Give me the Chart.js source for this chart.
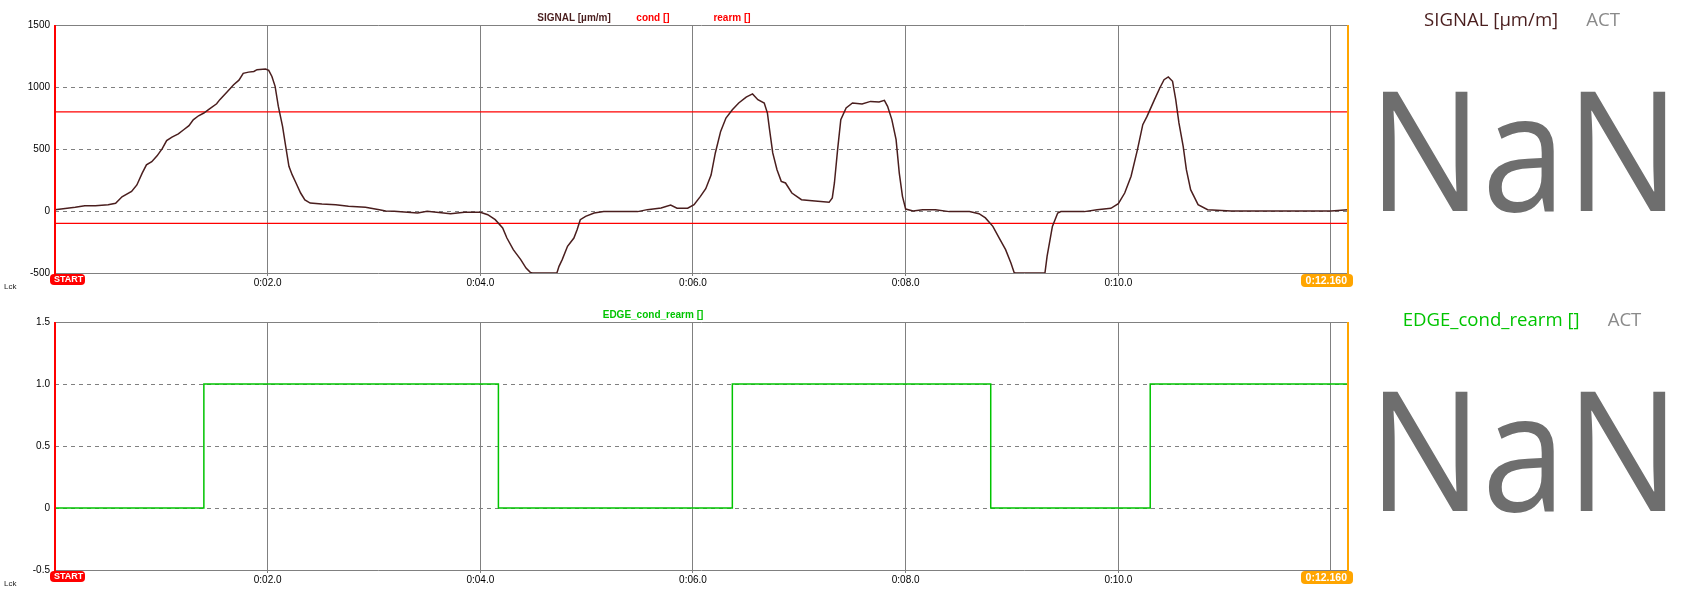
<!DOCTYPE html>
<html>
<head>
<meta charset="utf-8">
<script src="https://cdn.jsdelivr.net/npm/chart.js@4.4.0/dist/chart.umd.min.js"></script>
<style>
  body { margin: 0; background: #fff; width: 1691px; height: 601px; overflow: hidden; }
  canvas { position: absolute; left: 0; }
</style>
</head>
<body>
<canvas id="signalChart" width="1691" height="300" style="top:0"></canvas>
<canvas id="edgeChart" width="1691" height="300" style="top:300px"></canvas>
<script>
// recorded signal, seconds / µm/m (clipped at the -500 floor of the view)
const signalTime = [
  0.00, 0.19, 0.28, 0.38, 0.50, 0.57, 0.63, 0.72, 0.77, 0.82, 0.86, 0.91, 0.96, 1.01, 1.05, 1.10,
  1.16, 1.21, 1.26, 1.30, 1.35, 1.40, 1.45, 1.52, 1.55, 1.62, 1.68, 1.73, 1.77, 1.82, 1.87, 1.90,
  1.98, 2.01, 2.04, 2.07, 2.10, 2.14, 2.17, 2.20, 2.23, 2.26, 2.31, 2.35, 2.40, 2.51, 2.64, 2.76,
  2.92, 3.05, 3.11, 3.19, 3.41, 3.50, 3.72, 3.85, 4.00, 4.07, 4.14, 4.21, 4.25, 4.31, 4.38, 4.43,
  4.47, 4.49, 4.72, 4.74, 4.77, 4.82, 4.88, 4.91, 4.94, 4.99, 5.07, 5.16, 5.48, 5.57, 5.70, 5.79,
  5.85, 5.95, 6.01, 6.07, 6.12, 6.17, 6.21, 6.26, 6.31, 6.37, 6.43, 6.50, 6.56, 6.61, 6.67, 6.70,
  6.72, 6.75, 6.79, 6.83, 6.87, 6.93, 7.02, 7.12, 7.28, 7.31, 7.33, 7.36, 7.39, 7.44, 7.50, 7.59,
  7.67, 7.75, 7.80, 7.83, 7.87, 7.91, 7.94, 7.97, 8.00, 8.07, 8.16, 8.28, 8.41, 8.60, 8.69, 8.75,
  8.82, 8.88, 8.94, 8.99, 9.02, 9.03, 9.31, 9.33, 9.38, 9.43, 9.46, 9.68, 9.80, 9.93, 10.00, 10.06,
  10.12, 10.18, 10.23, 10.27, 10.34, 10.39, 10.43, 10.47, 10.51, 10.54, 10.57, 10.61, 10.64, 10.68, 10.75, 10.84,
  11.06, 12.00, 12.16
];
const signalValue = [
  10, 30, 42, 42, 50, 62, 115, 158, 210, 305, 372, 398, 445, 505, 568, 596,
  622, 655, 688, 735, 768, 790, 822, 865, 898, 962, 1018, 1055, 1110, 1120, 1125, 1140,
  1145, 1134, 1085, 1005, 845, 683, 520, 360, 293, 238, 145, 90, 64, 56, 51, 38,
  30, 10, 0, -3, -16, -3, -22, -11, -11, -30, -70, -137, -218, -312, -392, -460,
  -495, -500, -500, -446, -392, -285, -218, -151, -70, -43, -16, -5, -5, 11, 24, 48,
  22, 22, 51, 118, 180, 290, 468, 642, 750, 817, 871, 919, 944, 898, 871, 790,
  656, 468, 333, 239, 226, 145, 91, 83, 70, 105, 226, 495, 737, 831, 871, 863,
  884, 879, 892, 844, 737, 575, 306, 118, 16, 0, 11, 11, -5, -5, -22, -56,
  -124, -218, -312, -419, -495, -500, -500, -366, -124, -16, -5, -5, 11, 22, 59, 145,
  280, 495, 696, 763, 898, 992, 1059, 1081, 1046, 898, 710, 521, 333, 172, 51, 11,
  0, 0, 10
];
const condLevel = 800;
const rearmLevel = -100;

const edgeTime = [0, 1.40, 4.17, 6.37, 8.80, 10.30, 12.16];
const edgeValue = [0, 1, 0, 1, 0, 1, 1];

const recordEnd = 12.16;
const endLabel = '0:12.160';
const timeTicks = [0, 2, 4, 6, 8, 10, 12];
const signalTicks = [-500, 0, 500, 1000, 1500];
const edgeTicks = [-0.5, 0, 0.5, 1, 1.5];

const GRID = '#808080';
const RED = '#ff0000';
const ORANGE = '#ffa500';
const BROWN = '#4a1e1e';
const GREEN = '#00c400';
const NONE = 'rgba(0,0,0,0)';
const FONT = '"Liberation Sans", Arial, sans-serif';
const PANEL_FONT = '"Open Sans", "Noto Sans", sans-serif';

function timeLabel(v) {
  if (v === 0 || v === 12) return '';
  return '0:' + String(v).padStart(2, '0') + '.0';
}

const scopeDecor = {
  id: 'scopeDecor',
  beforeDatasetsDraw(chart) {
    const { ctx, chartArea: a } = chart;
    const L = Math.round(a.left), R = Math.round(a.right), T = Math.round(a.top), B = Math.round(a.bottom);
    ctx.save();
    ctx.strokeStyle = GRID;
    ctx.lineWidth = 1;
    ctx.beginPath();
    ctx.moveTo(L, T + 0.5); ctx.lineTo(R, T + 0.5);
    ctx.moveTo(L, B + 0.5); ctx.lineTo(R, B + 0.5);
    ctx.stroke();
    ctx.restore();
  },
  afterDraw(chart, args, o) {
    const { ctx, chartArea: a } = chart;
    const L = Math.round(a.left), R = Math.round(a.right), T = Math.round(a.top), B = Math.round(a.bottom);
    ctx.save();
    // start / end cursors
    ctx.fillStyle = RED;
    ctx.fillRect(L - 1, T, 2, B - T + 1);
    ctx.fillStyle = ORANGE;
    ctx.fillRect(R - 1, T, 2, B - T + 1);

    ctx.beginPath();
    ctx.roundRect(L - 5, B + 1, 35, 11, 4);
    ctx.fillStyle = RED;
    ctx.fill();
    ctx.font = 'bold 9px ' + FONT;
    ctx.fillStyle = '#fff';
    ctx.textAlign = 'left';
    ctx.textBaseline = 'middle';
    ctx.fillText('START', L - 1, B + 7);

    ctx.beginPath();
    ctx.roundRect(R - 47, B + 1, 52, 13, 4);
    ctx.fillStyle = ORANGE;
    ctx.fill();
    ctx.font = 'bold 10.5px ' + FONT;
    ctx.fillStyle = '#fff';
    ctx.textAlign = 'right';
    ctx.fillText(endLabel, R - 1, B + 8);

    ctx.font = '8px ' + FONT;
    ctx.fillStyle = '#222';
    ctx.textAlign = 'left';
    ctx.fillText('Lck', 4, B + 14);

    // series names above the plot
    const sets = chart.data.datasets;
    ctx.font = 'bold 10px ' + FONT;
    ctx.textAlign = 'center';
    sets.forEach((ds, i) => {
      ctx.fillStyle = ds.borderColor;
      ctx.fillText(ds.label, 653 + (i - (sets.length - 1) / 2) * 79, T - 7);
    });

    // live value panel
    ctx.font = '18.6px ' + PANEL_FONT;
    ctx.textBaseline = 'alphabetic';
    ctx.textAlign = 'left';
    const wName = ctx.measureText(o.channel).width;
    const wAct = ctx.measureText('ACT').width;
    const x0 = 1522 - (wName + 28 + wAct) / 2;
    ctx.fillStyle = o.channelColor;
    ctx.fillText(o.channel, x0, 26);
    ctx.fillStyle = '#8a8a8a';
    ctx.fillText('ACT', x0 + wName + 28, 26);

    ctx.font = '167px ' + PANEL_FONT;
    ctx.fillStyle = '#6e6e6e';
    ctx.textAlign = 'center';
    ctx.translate(1524, 211);
    ctx.scale(0.905, 1);
    ctx.fillText(o.reading, 0, 0);
    ctx.restore();
  }
};

function xScale() {
  return {
    type: 'linear',
    min: 0,
    max: recordEnd,
    afterBuildTicks: s => { s.ticks = timeTicks.map(v => ({ value: v })); },
    afterFit: s => { s.height = 20; },
    ticks: {
      autoSkip: false,
      maxRotation: 0,
      color: '#000',
      font: { family: FONT, size: 10 },
      padding: 1,
      callback: v => timeLabel(v)
    },
    grid: {
      color: c => (c.tick && c.tick.value === 0) ? NONE : GRID,
      lineWidth: 1,
      tickLength: 3,
      tickColor: GRID
    },
    border: { display: false }
  };
}

function yScale(ticks, fmt) {
  const lo = ticks[0], hi = ticks[ticks.length - 1];
  return {
    min: lo,
    max: hi,
    afterBuildTicks: s => { s.ticks = ticks.map(v => ({ value: v })); },
    afterFit: s => { s.width = 55; },
    ticks: {
      color: '#000',
      font: { family: FONT, size: 10 },
      padding: 5,
      callback: fmt
    },
    grid: {
      drawTicks: false,
      color: c => (c.tick && (c.tick.value === lo || c.tick.value === hi)) ? NONE : GRID,
      lineWidth: 1
    },
    border: { display: false, dash: [4, 4] }
  };
}

const pts = (xs, ys) => xs.map((t, i) => ({ x: t, y: ys[i] }));
const level = v => [{ x: 0, y: v }, { x: recordEnd, y: v }];

new Chart(document.getElementById('signalChart'), {
  type: 'line',
  data: {
    datasets: [
      { label: 'SIGNAL [µm/m]', data: pts(signalTime, signalValue), borderColor: BROWN, borderWidth: 1.5, pointRadius: 0 },
      { label: 'cond []', data: level(condLevel), borderColor: RED, borderWidth: 1.3, pointRadius: 0 },
      { label: 'rearm []', data: level(rearmLevel), borderColor: RED, borderWidth: 1.3, pointRadius: 0 }
    ]
  },
  options: {
    responsive: false,
    animation: false,
    layout: { padding: { top: 25, bottom: 7, left: 0, right: 343 } },
    scales: { x: xScale(), y: yScale(signalTicks, v => String(v)) },
    plugins: {
      legend: { display: false },
      tooltip: { enabled: false },
      scopeDecor: { channel: 'SIGNAL [µm/m]', channelColor: BROWN, reading: 'NaN' }
    }
  },
  plugins: [scopeDecor]
});

new Chart(document.getElementById('edgeChart'), {
  type: 'line',
  data: {
    datasets: [
      { label: 'EDGE_cond_rearm []', data: pts(edgeTime, edgeValue), stepped: true, borderColor: GREEN, borderWidth: 1.5, pointRadius: 0 }
    ]
  },
  options: {
    responsive: false,
    animation: false,
    layout: { padding: { top: 22, bottom: 10, left: 0, right: 343 } },
    scales: { x: xScale(), y: yScale(edgeTicks, v => v === 0 ? '0' : v.toFixed(1)) },
    plugins: {
      legend: { display: false },
      tooltip: { enabled: false },
      scopeDecor: { channel: 'EDGE_cond_rearm []', channelColor: GREEN, reading: 'NaN' }
    }
  },
  plugins: [scopeDecor]
});
</script>
</body>
</html>
